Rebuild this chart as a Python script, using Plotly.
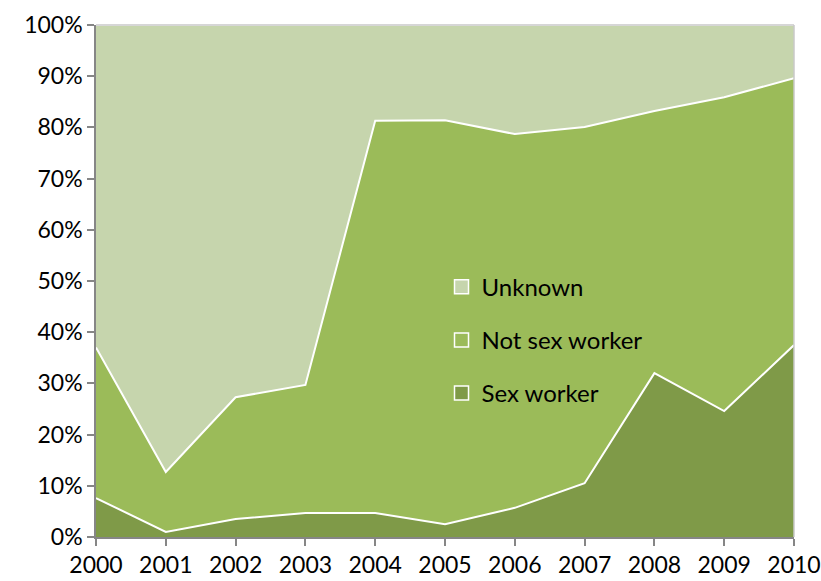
import plotly.graph_objects as go

years = [2000, 2001, 2002, 2003, 2004, 2005, 2006, 2007, 2008, 2009, 2010]
sex_worker = [7.6, 1.0, 3.5, 4.7, 4.7, 2.5, 5.7, 10.5, 32.0, 24.6, 37.5]
not_sex_worker = [29.4, 11.7, 23.8, 25.0, 76.6, 78.9, 73.0, 69.6, 51.2, 61.3, 52.1]
unknown = [63.0, 87.3, 72.7, 70.3, 18.7, 18.6, 21.3, 19.9, 16.8, 14.1, 10.4]
y_ticks = [0, 10, 20, 30, 40, 50, 60, 70, 80, 90, 100]

series = [("Sex worker", sex_worker, "#7F9A48"),
          ("Not sex worker", not_sex_worker, "#9BBB59"),
          ("Unknown", unknown, "#C6D5AD")]

FONT = "Lato"
fig = go.Figure()
for name, vals, col in series:
    fig.add_trace(go.Scatter(x=years, y=vals, name=name, stackgroup="one",
                             mode="lines", line=dict(color="white", width=2),
                             fillcolor=col, showlegend=False, hoverinfo="skip"))
for name, vals, col in reversed(series):
    fig.add_trace(go.Scatter(x=[None], y=[None], name=name, mode="markers",
                             marker=dict(symbol="square", size=14, color=col,
                                         line=dict(color="white", width=1.5)),
                             legendgroup=name, showlegend=True))

fig.update_layout(
    width=821, height=581,
    margin=dict(l=96, r=27, t=25, b=44),
    paper_bgcolor="white", plot_bgcolor="white",
    font=dict(family=FONT, size=23, color="black"),
    showlegend=True,
    legend=dict(x=0.495, y=0.532, xanchor="left", yanchor="top",
                bgcolor="rgba(0,0,0,0)", traceorder="grouped",
                tracegroupgap=19, font=dict(size=24, family=FONT, color="black")),
    xaxis=dict(range=[2000, 2010], tickvals=years, ticktext=[str(y) for y in years],
               showgrid=False, zeroline=False, showline=True, linecolor="#868686",
               linewidth=1.5, ticks="outside", ticklen=7, tickcolor="#868686",
               tickwidth=1.5, tickfont=dict(size=23, family=FONT), automargin=False),
    yaxis=dict(range=[0, 100], tickvals=y_ticks, ticktext=[f"{v}%" for v in y_ticks],
               showgrid=False, zeroline=False, showline=True, linecolor="#868686",
               linewidth=1.5, ticks="outside", ticklen=7, tickcolor="#868686",
               tickwidth=1.5, tickfont=dict(size=23, family=FONT), automargin=False),
)
fig.add_shape(type="line", xref="x domain", yref="y domain", x0=0, x1=1, y0=1, y1=1,
              line=dict(color="#C8C8C8", width=1.5), layer="above")
fig.add_shape(type="line", xref="x domain", yref="y domain", x0=1, x1=1, y0=0, y1=1,
              line=dict(color="#C8C8C8", width=1.5), layer="above")
fig.write_html("out.html", config={"displayModeBar": False},
               post_script="document.body.style.margin='0';")
